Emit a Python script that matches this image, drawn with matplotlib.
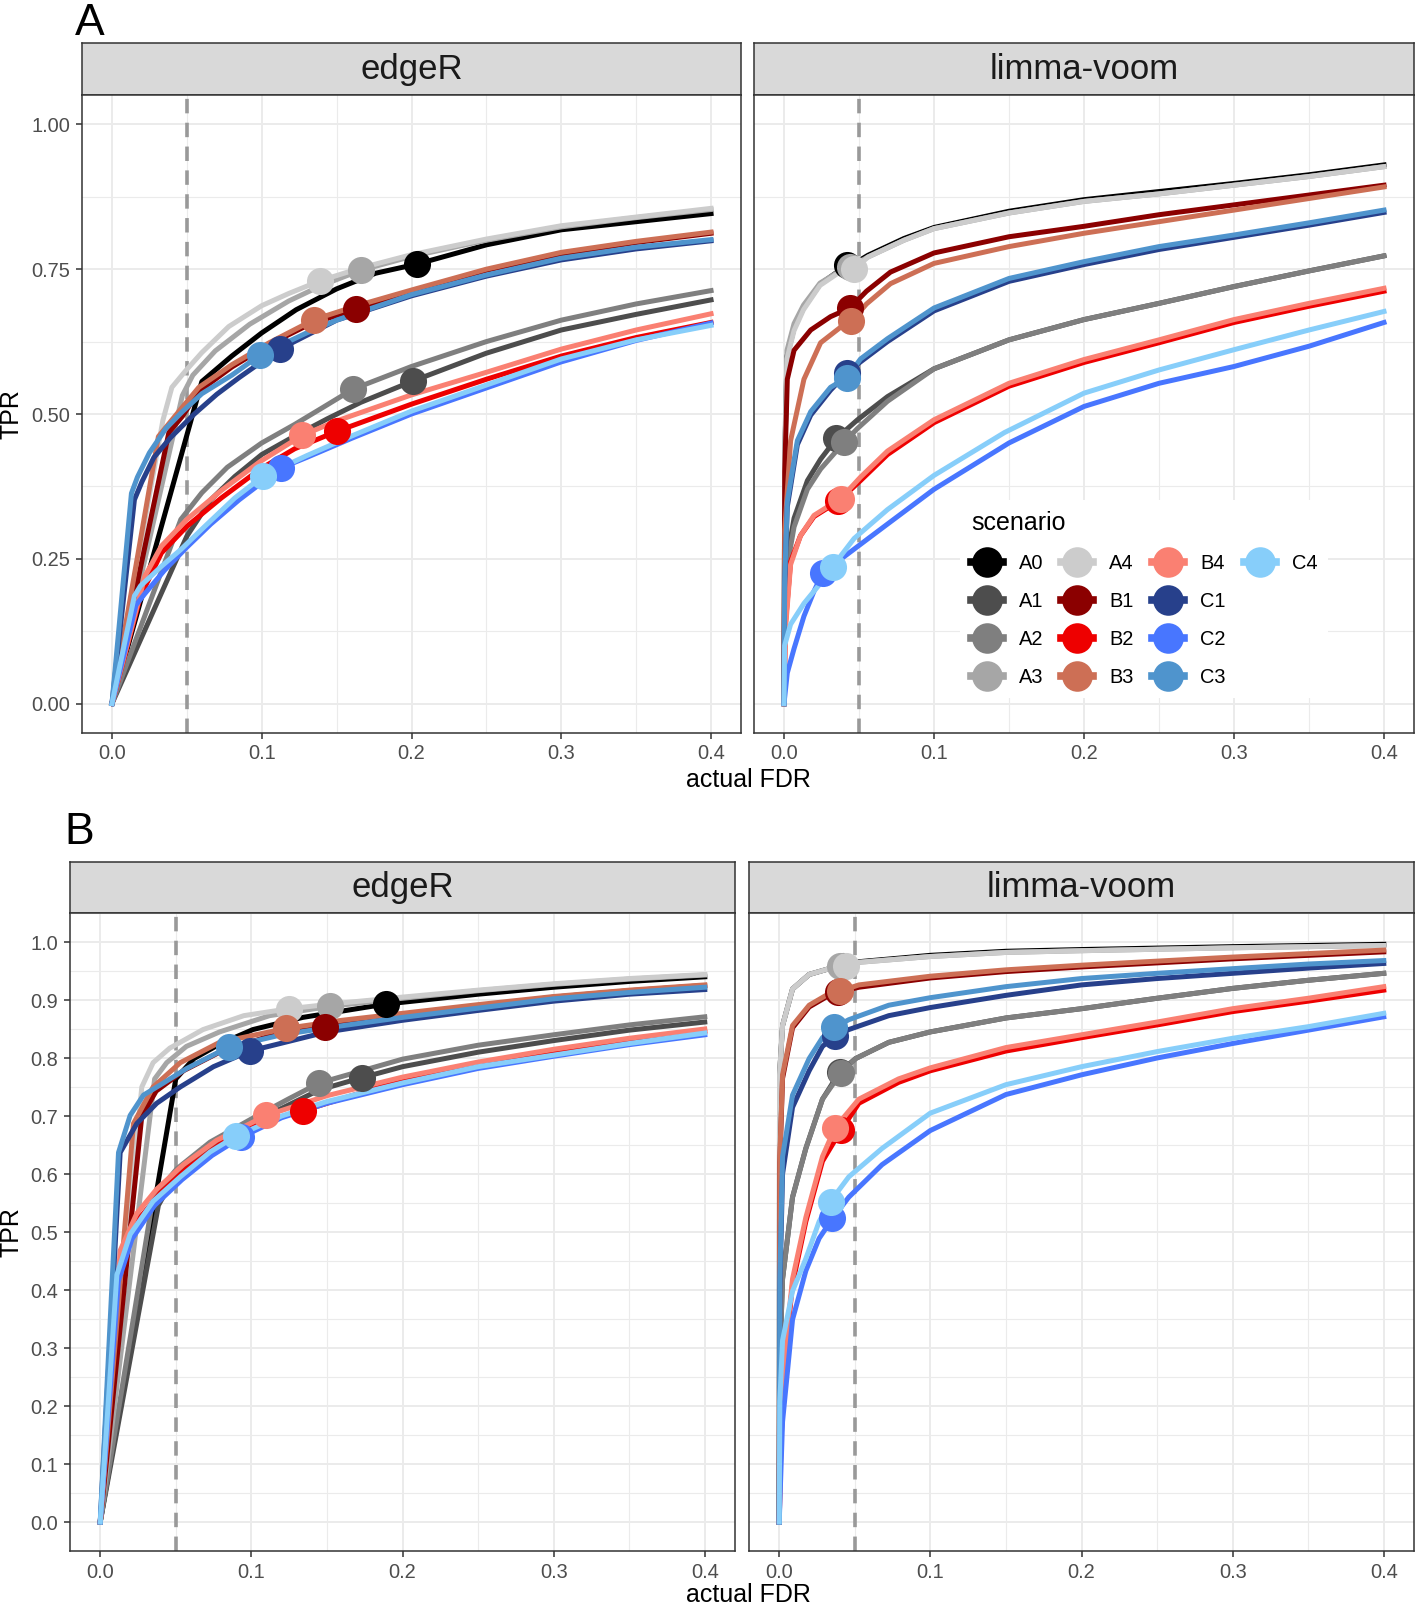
import matplotlib.pyplot as plt
from matplotlib.lines import Line2D
from matplotlib.ticker import MultipleLocator

plt.rcParams['font.family'] = ['Liberation Sans', 'DejaVu Sans']

scenarios = ['A0', 'A1', 'A2', 'A3', 'A4', 'B1', 'B2', 'B3', 'B4', 'C1', 'C2', 'C3', 'C4']
colors = ['#000000', '#4D4D4D', '#7F7F7F', '#A6A6A6', '#CCCCCC',
          '#8B0000', '#EE0000', '#CD6F55', '#FA8072',
          '#27408B', '#4876FF', '#4F94CD', '#87CEFA']

# ---- A / edgeR : (actual FDR, TPR) ----
a_edger = {
    'A0': ([0, 0.060, 0.080, 0.100, 0.123, 0.150, 0.176, 0.204, 0.250, 0.300, 0.350, 0.400],
           [0, 0.556, 0.600, 0.640, 0.680, 0.716, 0.743, 0.759, 0.792, 0.818, 0.832, 0.846]),
    'A1': ([0, 0.050, 0.066, 0.082, 0.100, 0.122, 0.144, 0.166, 0.201, 0.250, 0.300, 0.350, 0.400],
           [0, 0.289, 0.352, 0.392, 0.430, 0.462, 0.492, 0.520, 0.557, 0.605, 0.645, 0.672, 0.697]),
    'A2': ([0, 0.046, 0.060, 0.077, 0.100, 0.122, 0.140, 0.161, 0.200, 0.250, 0.300, 0.350, 0.400],
           [0, 0.318, 0.364, 0.408, 0.450, 0.482, 0.510, 0.543, 0.582, 0.625, 0.662, 0.690, 0.713]),
    'A3': ([0, 0.047, 0.054, 0.069, 0.092, 0.118, 0.140, 0.166, 0.200, 0.250, 0.300, 0.350, 0.400],
           [0, 0.532, 0.567, 0.609, 0.655, 0.695, 0.722, 0.748, 0.772, 0.800, 0.823, 0.839, 0.853]),
    'A4': ([0, 0.034, 0.040, 0.049, 0.060, 0.078, 0.100, 0.118, 0.139, 0.166, 0.200, 0.250, 0.300, 0.350, 0.400],
           [0, 0.489, 0.546, 0.574, 0.606, 0.651, 0.687, 0.708, 0.730, 0.752, 0.775, 0.802, 0.825, 0.840, 0.855]),
    'B1': ([0, 0.038, 0.047, 0.058, 0.080, 0.105, 0.132, 0.163, 0.200, 0.250, 0.300, 0.350, 0.400],
           [0, 0.468, 0.496, 0.539, 0.581, 0.620, 0.655, 0.681, 0.712, 0.748, 0.776, 0.796, 0.812]),
    'B2': ([0, 0.019, 0.033, 0.050, 0.073, 0.099, 0.122, 0.150, 0.200, 0.250, 0.300, 0.350, 0.400],
           [0, 0.185, 0.260, 0.306, 0.355, 0.405, 0.440, 0.470, 0.517, 0.560, 0.600, 0.632, 0.658]),
    'B3': ([0, 0.031, 0.042, 0.058, 0.080, 0.105, 0.135, 0.165, 0.200, 0.250, 0.300, 0.350, 0.400],
           [0, 0.461, 0.496, 0.546, 0.585, 0.623, 0.663, 0.688, 0.714, 0.750, 0.779, 0.798, 0.814]),
    'B4': ([0, 0.022, 0.033, 0.050, 0.073, 0.099, 0.127, 0.150, 0.200, 0.250, 0.300, 0.350, 0.400],
           [0, 0.220, 0.272, 0.318, 0.368, 0.418, 0.463, 0.488, 0.533, 0.572, 0.612, 0.645, 0.673]),
    'C1': ([0, 0.015, 0.020, 0.028, 0.039, 0.055, 0.070, 0.085, 0.112, 0.150, 0.200, 0.250, 0.300, 0.350, 0.400],
           [0, 0.352, 0.383, 0.425, 0.459, 0.500, 0.534, 0.563, 0.612, 0.662, 0.704, 0.738, 0.766, 0.785, 0.799]),
    'C2': ([0, 0.016, 0.022, 0.035, 0.050, 0.066, 0.085, 0.113, 0.130, 0.160, 0.200, 0.250, 0.300, 0.350, 0.400],
           [0, 0.170, 0.190, 0.230, 0.270, 0.310, 0.352, 0.407, 0.425, 0.458, 0.500, 0.545, 0.590, 0.627, 0.657]),
    'C3': ([0, 0.013, 0.017, 0.025, 0.036, 0.047, 0.060, 0.080, 0.099, 0.130, 0.150, 0.200, 0.250, 0.300, 0.350, 0.400],
           [0, 0.363, 0.391, 0.433, 0.475, 0.504, 0.535, 0.567, 0.602, 0.640, 0.662, 0.706, 0.740, 0.769, 0.788, 0.801]),
    'C4': ([0, 0.015, 0.019, 0.033, 0.046, 0.062, 0.082, 0.101, 0.130, 0.160, 0.200, 0.250, 0.300, 0.350, 0.400],
           [0, 0.186, 0.203, 0.237, 0.266, 0.306, 0.355, 0.393, 0.428, 0.462, 0.505, 0.550, 0.595, 0.628, 0.653]),
}
a_edger_pts = {'A0': (0.204, 0.759), 'A1': (0.201, 0.557), 'A2': (0.161, 0.543), 'A3': (0.166, 0.748),
               'A4': (0.139, 0.730), 'B1': (0.163, 0.681), 'B2': (0.150, 0.470), 'B3': (0.135, 0.663),
               'B4': (0.127, 0.463), 'C1': (0.112, 0.613), 'C2': (0.113, 0.407), 'C3': (0.099, 0.602),
               'C4': (0.101, 0.393)}

# ---- A / limma-voom ----
a_limma = {
    'A0': ([0, 0.0005, 0.002, 0.0067, 0.013, 0.024, 0.036, 0.047, 0.056, 0.080, 0.100, 0.150, 0.200, 0.250, 0.300, 0.350, 0.400],
           [0, 0.420, 0.600, 0.648, 0.683, 0.724, 0.746, 0.760, 0.774, 0.803, 0.822, 0.850, 0.870, 0.884, 0.898, 0.913, 0.930]),
    'A1': ([0, 0.0005, 0.002, 0.0067, 0.0156, 0.0244, 0.035, 0.049, 0.069, 0.100, 0.150, 0.200, 0.250, 0.300, 0.350, 0.400],
           [0, 0.200, 0.250, 0.320, 0.385, 0.422, 0.458, 0.490, 0.530, 0.578, 0.628, 0.663, 0.691, 0.720, 0.747, 0.773]),
    'A2': ([0, 0.0005, 0.002, 0.0067, 0.0156, 0.0244, 0.040, 0.049, 0.069, 0.100, 0.150, 0.200, 0.250, 0.300, 0.350, 0.400],
           [0, 0.180, 0.235, 0.305, 0.370, 0.405, 0.451, 0.475, 0.522, 0.578, 0.628, 0.663, 0.691, 0.720, 0.747, 0.773]),
    'A3': ([0, 0.0005, 0.002, 0.0067, 0.013, 0.024, 0.036, 0.044, 0.056, 0.080, 0.100, 0.150, 0.200, 0.250, 0.300, 0.350, 0.400],
           [0, 0.440, 0.610, 0.656, 0.688, 0.726, 0.745, 0.754, 0.771, 0.800, 0.820, 0.847, 0.867, 0.880, 0.895, 0.910, 0.927]),
    'A4': ([0, 0.0005, 0.002, 0.0067, 0.013, 0.024, 0.036, 0.047, 0.056, 0.080, 0.100, 0.150, 0.200, 0.250, 0.300, 0.350, 0.400],
           [0, 0.420, 0.595, 0.644, 0.680, 0.722, 0.743, 0.750, 0.771, 0.800, 0.820, 0.847, 0.867, 0.880, 0.895, 0.910, 0.927]),
    'B1': ([0, 0.0005, 0.0022, 0.0067, 0.0178, 0.031, 0.044, 0.055, 0.071, 0.100, 0.150, 0.200, 0.250, 0.300, 0.350, 0.400],
           [0, 0.400, 0.560, 0.610, 0.645, 0.668, 0.683, 0.712, 0.745, 0.778, 0.806, 0.824, 0.844, 0.861, 0.878, 0.895]),
    'B2': ([0, 0.001, 0.0044, 0.011, 0.020, 0.036, 0.051, 0.069, 0.100, 0.150, 0.200, 0.250, 0.300, 0.350, 0.400],
           [0, 0.140, 0.245, 0.290, 0.323, 0.349, 0.385, 0.430, 0.485, 0.548, 0.589, 0.623, 0.658, 0.686, 0.712]),
    'B3': ([0, 0.0005, 0.0044, 0.0133, 0.0244, 0.0378, 0.045, 0.055, 0.071, 0.100, 0.150, 0.200, 0.250, 0.300, 0.350, 0.400],
           [0, 0.300, 0.454, 0.560, 0.623, 0.650, 0.660, 0.690, 0.725, 0.760, 0.789, 0.812, 0.832, 0.852, 0.872, 0.892]),
    'B4': ([0, 0.001, 0.0044, 0.011, 0.020, 0.0378, 0.051, 0.069, 0.100, 0.150, 0.200, 0.250, 0.300, 0.350, 0.400],
           [0, 0.130, 0.240, 0.290, 0.325, 0.354, 0.391, 0.436, 0.490, 0.553, 0.594, 0.628, 0.663, 0.691, 0.717]),
    'C1': ([0, 0.0004, 0.0022, 0.0089, 0.0178, 0.031, 0.042, 0.051, 0.069, 0.100, 0.150, 0.200, 0.250, 0.300, 0.350, 0.400],
           [0, 0.200, 0.340, 0.447, 0.498, 0.541, 0.571, 0.590, 0.625, 0.678, 0.729, 0.758, 0.784, 0.805, 0.826, 0.848]),
    'C2': ([0, 0.0022, 0.0067, 0.0133, 0.020, 0.0256, 0.0356, 0.051, 0.069, 0.100, 0.150, 0.200, 0.250, 0.300, 0.350, 0.400],
           [0, 0.053, 0.095, 0.151, 0.194, 0.225, 0.245, 0.275, 0.310, 0.370, 0.450, 0.513, 0.553, 0.582, 0.617, 0.658]),
    'C3': ([0, 0.0004, 0.0022, 0.0089, 0.0178, 0.031, 0.042, 0.051, 0.069, 0.100, 0.150, 0.200, 0.250, 0.300, 0.350, 0.400],
           [0, 0.208, 0.349, 0.454, 0.504, 0.546, 0.563, 0.595, 0.630, 0.683, 0.734, 0.763, 0.789, 0.809, 0.830, 0.852]),
    'C4': ([0, 0.0004, 0.0044, 0.0133, 0.0244, 0.0322, 0.0467, 0.069, 0.100, 0.147, 0.200, 0.250, 0.300, 0.350, 0.400],
           [0, 0.100, 0.137, 0.173, 0.208, 0.236, 0.285, 0.335, 0.394, 0.468, 0.536, 0.576, 0.611, 0.645, 0.677]),
}
a_limma_pts = {'A0': (0.042, 0.757), 'A1': (0.035, 0.458), 'A2': (0.040, 0.451), 'A3': (0.044, 0.754),
               'A4': (0.047, 0.750), 'B1': (0.044, 0.683), 'B2': (0.036, 0.349), 'B3': (0.045, 0.660),
               'B4': (0.038, 0.354), 'C1': (0.042, 0.571), 'C2': (0.026, 0.225), 'C3': (0.042, 0.562),
               'C4': (0.033, 0.236)}

# ---- B / edgeR ----
b_edger = {
    'A0': ([0, 0.050, 0.062, 0.079, 0.101, 0.134, 0.189, 0.250, 0.300, 0.350, 0.400],
           [0, 0.764, 0.799, 0.824, 0.849, 0.870, 0.893, 0.910, 0.922, 0.932, 0.940]),
    'A1': ([0, 0.0385, 0.046, 0.064, 0.086, 0.112, 0.145, 0.173, 0.200, 0.250, 0.300, 0.350, 0.400],
           [0, 0.546, 0.581, 0.632, 0.672, 0.703, 0.745, 0.766, 0.785, 0.810, 0.830, 0.848, 0.862]),
    'A2': ([0, 0.035, 0.0507, 0.0727, 0.1035, 0.125, 0.145, 0.200, 0.250, 0.300, 0.350, 0.400],
           [0, 0.560, 0.609, 0.655, 0.700, 0.730, 0.757, 0.798, 0.822, 0.840, 0.857, 0.871]),
    'A3': ([0, 0.036, 0.044, 0.057, 0.079, 0.112, 0.152, 0.200, 0.250, 0.300, 0.350, 0.400],
           [0, 0.764, 0.792, 0.820, 0.845, 0.873, 0.889, 0.903, 0.916, 0.927, 0.936, 0.943]),
    'A4': ([0, 0.0275, 0.035, 0.046, 0.068, 0.095, 0.125, 0.160, 0.200, 0.250, 0.300, 0.350, 0.400],
           [0, 0.750, 0.792, 0.817, 0.849, 0.873, 0.885, 0.895, 0.905, 0.917, 0.928, 0.937, 0.944]),
    'B1': ([0, 0.0275, 0.037, 0.055, 0.079, 0.112, 0.149, 0.200, 0.250, 0.300, 0.350, 0.400],
           [0, 0.700, 0.743, 0.778, 0.810, 0.838, 0.854, 0.872, 0.889, 0.905, 0.916, 0.925]),
    'B2': ([0, 0.0132, 0.0242, 0.0396, 0.057, 0.079, 0.1035, 0.134, 0.200, 0.250, 0.300, 0.350, 0.400],
           [0, 0.447, 0.518, 0.567, 0.609, 0.651, 0.687, 0.709, 0.762, 0.788, 0.810, 0.830, 0.846]),
    'B3': ([0, 0.022, 0.035, 0.053, 0.079, 0.123, 0.160, 0.200, 0.250, 0.300, 0.350, 0.400],
           [0, 0.687, 0.750, 0.792, 0.827, 0.851, 0.865, 0.877, 0.892, 0.906, 0.917, 0.926]),
    'B4': ([0, 0.0132, 0.0242, 0.0374, 0.055, 0.077, 0.110, 0.150, 0.200, 0.250, 0.300, 0.350, 0.400],
           [0, 0.468, 0.532, 0.574, 0.616, 0.658, 0.701, 0.735, 0.767, 0.793, 0.815, 0.834, 0.850]),
    'C1': ([0, 0.0132, 0.0242, 0.0374, 0.0529, 0.0749, 0.099, 0.150, 0.200, 0.250, 0.300, 0.350, 0.400],
           [0, 0.637, 0.687, 0.722, 0.750, 0.785, 0.812, 0.845, 0.865, 0.882, 0.898, 0.910, 0.918]),
    'C2': ([0, 0.012, 0.021, 0.036, 0.054, 0.074, 0.093, 0.120, 0.150, 0.200, 0.250, 0.300, 0.350, 0.400],
           [0, 0.415, 0.488, 0.546, 0.590, 0.632, 0.663, 0.697, 0.722, 0.754, 0.782, 0.803, 0.823, 0.840]),
    'C3': ([0, 0.0121, 0.0198, 0.0286, 0.0419, 0.0573, 0.0852, 0.120, 0.150, 0.200, 0.250, 0.300, 0.350, 0.400],
           [0, 0.637, 0.701, 0.736, 0.757, 0.782, 0.819, 0.840, 0.852, 0.870, 0.886, 0.902, 0.913, 0.922]),
    'C4': ([0, 0.011, 0.0198, 0.035, 0.0529, 0.0727, 0.0896, 0.120, 0.150, 0.200, 0.250, 0.300, 0.350, 0.400],
           [0, 0.426, 0.496, 0.553, 0.595, 0.638, 0.665, 0.700, 0.725, 0.757, 0.785, 0.805, 0.825, 0.843]),
}
b_edger_pts = {'A0': (0.189, 0.893), 'A1': (0.173, 0.766), 'A2': (0.145, 0.757), 'A3': (0.152, 0.889),
               'A4': (0.125, 0.885), 'B1': (0.149, 0.854), 'B2': (0.134, 0.709), 'B3': (0.123, 0.851),
               'B4': (0.110, 0.701), 'C1': (0.099, 0.812), 'C2': (0.093, 0.663), 'C3': (0.085, 0.819),
               'C4': (0.090, 0.665)}

# ---- B / limma-voom ----
b_limma = {
    'A0': ([0, 0.0002, 0.0022, 0.0088, 0.0198, 0.033, 0.042, 0.0527, 0.100, 0.150, 0.200, 0.300, 0.400],
           [0, 0.770, 0.856, 0.919, 0.944, 0.954, 0.958, 0.966, 0.977, 0.984, 0.987, 0.992, 0.996]),
    'A1': ([0, 0.0004, 0.0022, 0.0088, 0.0176, 0.0286, 0.040, 0.0505, 0.0725, 0.100, 0.150, 0.200, 0.250, 0.300, 0.350, 0.400],
           [0, 0.278, 0.419, 0.560, 0.644, 0.729, 0.776, 0.799, 0.827, 0.845, 0.869, 0.885, 0.903, 0.920, 0.934, 0.946]),
    'A2': ([0, 0.0004, 0.0022, 0.0088, 0.0176, 0.0286, 0.041, 0.0505, 0.0725, 0.100, 0.150, 0.200, 0.250, 0.300, 0.350, 0.400],
           [0, 0.278, 0.419, 0.560, 0.644, 0.729, 0.775, 0.799, 0.827, 0.845, 0.869, 0.885, 0.903, 0.920, 0.934, 0.946]),
    'A3': ([0, 0.0002, 0.0022, 0.0088, 0.0198, 0.033, 0.040, 0.0527, 0.100, 0.150, 0.200, 0.300, 0.400],
           [0, 0.770, 0.856, 0.919, 0.944, 0.954, 0.958, 0.965, 0.975, 0.982, 0.985, 0.990, 0.994]),
    'A4': ([0, 0.0002, 0.0022, 0.0088, 0.0198, 0.033, 0.044, 0.0527, 0.100, 0.150, 0.200, 0.300, 0.400],
           [0, 0.770, 0.856, 0.919, 0.944, 0.954, 0.958, 0.965, 0.975, 0.982, 0.985, 0.990, 0.994]),
    'B1': ([0, 0.0004, 0.0022, 0.0088, 0.0198, 0.031, 0.039, 0.0527, 0.100, 0.150, 0.200, 0.300, 0.400],
           [0, 0.620, 0.765, 0.852, 0.888, 0.905, 0.913, 0.922, 0.938, 0.949, 0.957, 0.971, 0.983]),
    'B2': ([0, 0.0011, 0.0033, 0.0088, 0.0176, 0.0286, 0.041, 0.0527, 0.079, 0.100, 0.150, 0.200, 0.250, 0.300, 0.350, 0.400],
           [0, 0.130, 0.270, 0.410, 0.518, 0.622, 0.676, 0.722, 0.758, 0.778, 0.812, 0.835, 0.857, 0.880, 0.898, 0.917]),
    'B3': ([0, 0.0004, 0.0022, 0.0088, 0.0198, 0.031, 0.040, 0.0527, 0.100, 0.150, 0.200, 0.300, 0.400],
           [0, 0.630, 0.771, 0.856, 0.891, 0.908, 0.915, 0.926, 0.941, 0.952, 0.960, 0.974, 0.986]),
    'B4': ([0, 0.0011, 0.0033, 0.0088, 0.0176, 0.0286, 0.037, 0.0527, 0.079, 0.100, 0.150, 0.200, 0.250, 0.300, 0.350, 0.400],
           [0, 0.137, 0.278, 0.419, 0.525, 0.630, 0.680, 0.729, 0.764, 0.783, 0.818, 0.840, 0.862, 0.885, 0.903, 0.923]),
    'C1': ([0, 0.0004, 0.0022, 0.0088, 0.0198, 0.0286, 0.037, 0.046, 0.0725, 0.100, 0.150, 0.200, 0.250, 0.300, 0.350, 0.400],
           [0, 0.400, 0.600, 0.715, 0.778, 0.820, 0.838, 0.849, 0.873, 0.887, 0.908, 0.926, 0.937, 0.946, 0.955, 0.963]),
    'C2': ([0, 0.0022, 0.0088, 0.0176, 0.0264, 0.0352, 0.046, 0.068, 0.100, 0.150, 0.200, 0.250, 0.300, 0.350, 0.400],
           [0, 0.173, 0.349, 0.433, 0.489, 0.523, 0.560, 0.616, 0.675, 0.737, 0.771, 0.800, 0.825, 0.848, 0.871]),
    'C3': ([0, 0.0004, 0.0022, 0.0088, 0.0198, 0.0286, 0.036, 0.046, 0.0725, 0.100, 0.150, 0.200, 0.250, 0.300, 0.350, 0.400],
           [0, 0.419, 0.630, 0.736, 0.799, 0.835, 0.852, 0.866, 0.891, 0.904, 0.923, 0.937, 0.946, 0.954, 0.962, 0.968]),
    'C4': ([0, 0.0004, 0.0022, 0.0088, 0.0176, 0.0264, 0.0334, 0.046, 0.068, 0.100, 0.150, 0.200, 0.250, 0.300, 0.350, 0.400],
           [0, 0.208, 0.313, 0.398, 0.454, 0.518, 0.551, 0.595, 0.644, 0.705, 0.754, 0.785, 0.811, 0.834, 0.854, 0.877]),
}
b_limma_pts = {'A0': (0.042, 0.958), 'A1': (0.040, 0.776), 'A2': (0.041, 0.775), 'A3': (0.040, 0.958),
               'A4': (0.044, 0.958), 'B1': (0.039, 0.913), 'B2': (0.041, 0.676), 'B3': (0.040, 0.915),
               'B4': (0.037, 0.680), 'C1': (0.037, 0.838), 'C2': (0.035, 0.524), 'C3': (0.036, 0.853),
               'C4': (0.034, 0.551)}

nominal_fdr = 0.05

W, H = 1415, 1609
fig = plt.figure(figsize=(W / 100, H / 100), dpi=100)


def px_axes(left, top, right, bottom):
    return fig.add_axes([left / W, 1 - bottom / H, (right - left) / W, (bottom - top) / H])


def strip(left, top, right, bottom, label):
    s = px_axes(left, top, right, bottom)
    s.set_facecolor('#D9D9D9')
    s.set_xticks([])
    s.set_yticks([])
    for sp in s.spines.values():
        sp.set_color('#333333')
        sp.set_linewidth(1.1)
    s.text(0.5, 0.5, label, ha='center', va='center', fontsize=25, color='#1A1A1A',
           transform=s.transAxes)


def panel(ax, curves, pts, ymajor, yminor, yfmt, show_y):
    ax.set_xlim(-0.02, 0.42)
    ax.set_ylim(-0.05, 1.05)
    ax.xaxis.set_major_locator(MultipleLocator(0.1))
    ax.xaxis.set_minor_locator(MultipleLocator(0.05))
    ax.yaxis.set_major_locator(MultipleLocator(ymajor))
    ax.yaxis.set_minor_locator(MultipleLocator(yminor))
    ax.xaxis.set_major_formatter(lambda v, p: '%.1f' % v)
    ax.yaxis.set_major_formatter(lambda v, p: yfmt % v)
    ax.grid(which='major', color='#EBEBEB', lw=1.4)
    ax.grid(which='minor', color='#EBEBEB', lw=0.8)
    ax.set_axisbelow(True)
    ax.tick_params(which='major', length=4.5, width=1.1, color='#333333',
                   labelsize=14.4, labelcolor='#4D4D4D', pad=4)
    ax.tick_params(which='minor', length=0)
    if not show_y:
        ax.tick_params(axis='y', which='both', left=False, labelleft=False)
    for sp in ax.spines.values():
        sp.set_color('#333333')
        sp.set_linewidth(1.1)
    ax.axvline(nominal_fdr, color='#999999', lw=2.6, ls=(0, (4, 2.6)), zorder=1.5)
    for name, col in zip(scenarios, colors):
        fdr, tpr = curves[name]
        ax.plot(fdr, tpr, color=col, lw=3.6, solid_joinstyle='round', zorder=2)
    for name, col in zip(scenarios, colors):
        px, py = pts[name]
        ax.plot([px], [py], 'o', color=col, ms=19.5, mec='none', zorder=3)


# panel A
strip(82, 43, 741, 95.4, 'edgeR')
strip(754, 43, 1414, 95.4, 'limma-voom')
ax1 = px_axes(82, 95.4, 741, 732.6)
panel(ax1, a_edger, a_edger_pts, 0.25, 0.125, '%.2f', True)
ax2 = px_axes(754, 95.4, 1414, 732.6)
panel(ax2, a_limma, a_limma_pts, 0.25, 0.125, '%.2f', False)

# panel B
strip(70, 862, 735, 913, 'edgeR')
strip(749, 862, 1414, 913, 'limma-voom')
ax3 = px_axes(70, 913, 735, 1551)
panel(ax3, b_edger, b_edger_pts, 0.1, 0.05, '%.1f', True)
ax4 = px_axes(749, 913, 1414, 1551)
panel(ax4, b_limma, b_limma_pts, 0.1, 0.05, '%.1f', False)

# legend inside A / limma-voom
handles = [Line2D([], [], color=c, lw=5.5, marker='o', ms=22, mec='none') for c in colors]
labels = list(scenarios)
for _ in range(3):
    handles.append(Line2D([], [], ls='none'))
    labels.append('')
leg = ax2.legend(handles, labels, ncol=4, loc='upper left', bbox_to_anchor=(0.312, 0.365),
                 title='scenario', title_fontsize=18, fontsize=14.4, frameon=True,
                 facecolor='white', edgecolor='none', fancybox=False, framealpha=1,
                 borderpad=0.55, labelspacing=0.95, handlelength=1.6, handletextpad=0.8,
                 columnspacing=0.9, alignment='left', borderaxespad=0)
leg.set_zorder(5)

# labels
fig.text(90 / W, 1 - 3 / H, 'A', fontsize=32, ha='center', va='top')
fig.text(79 / W, 1 - 833 / H, 'B', fontsize=32, ha='center', va='center')
fig.text(748 / W, 1 - 780 / H, 'actual FDR', fontsize=18, ha='center', va='center')
fig.text(748 / W, 1 - 1607 / H, 'actual FDR', fontsize=18, ha='center', va='bottom')
fig.text(12 / W, 1 - 414 / H, 'TPR', fontsize=18, rotation=90, ha='center', va='center')
fig.text(12 / W, 1 - 1232 / H, 'TPR', fontsize=18, rotation=90, ha='center', va='center')

fig.savefig('out.png', dpi=100)
